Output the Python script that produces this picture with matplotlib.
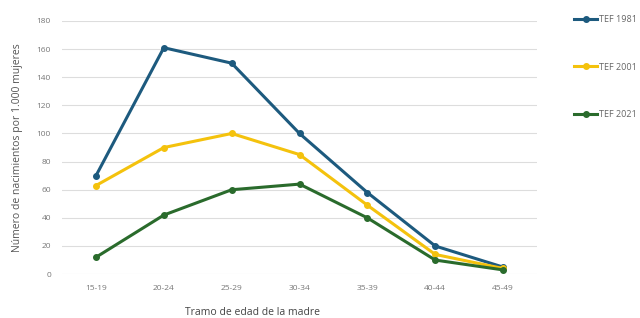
import matplotlib.pyplot as plt

# Age groups and fertility rates (births per 1000 women)
age_groups = ['15-19', '20-24', '25-29', '30-34', '35-39', '40-44', '45-49']
tef_1981 = [70, 161, 150, 100, 58, 20, 5]
tef_2001 = [63, 90, 100, 85, 49, 14, 4]
tef_2021 = [12, 42, 60, 64, 40, 10, 3]

series_labels = ['TEF 1981', 'TEF 2001', 'TEF 2021']
series_colors = ['#1d5a7e', '#f4c20d', '#2a6b2c']
y_ticks = [0, 20, 40, 60, 80, 100, 120, 140, 160, 180]

plt.rcParams['font.family'] = ['Open Sans', 'DejaVu Sans']

fig = plt.figure(figsize=(6.4, 3.18), dpi=100)
ax = fig.add_axes([0.097, 0.138, 0.742, 0.796])

x = range(len(age_groups))
for vals, lab, col in zip([tef_1981, tef_2001, tef_2021], series_labels, series_colors):
    ax.plot(x, vals, color=col, lw=2.2, marker='o', ms=4, label=lab)

ax.set_xlim(-0.5, len(age_groups) - 0.5)
ax.set_ylim(0, 180)
ax.set_yticks(y_ticks)
ax.set_xticks(list(x))
ax.set_xticklabels(age_groups)
ax.grid(axis='y', color='#dddddd', lw=0.8)
ax.set_axisbelow(True)
for s in ax.spines.values():
    s.set_visible(False)
ax.tick_params(length=0, labelsize=6, colors='#777777', pad=8)

ax.set_ylabel('Número de nacimientos por 1.000 mujeres', fontsize=7.5, color='#555555', labelpad=10)
ax.set_xlabel('Tramo de edad de la madre', fontsize=7.5, color='#444444')
ax.xaxis.set_label_coords(0.4, -0.13)

leg = fig.legend(loc='upper left', bbox_to_anchor=(0.892, 0.965), frameon=False,
                 fontsize=6.5, handlelength=2.5, handletextpad=0.2, labelspacing=4.3,
                 borderaxespad=0)
for t in leg.get_texts():
    t.set_color('#666666')

fig.savefig('out.png', dpi=100)
